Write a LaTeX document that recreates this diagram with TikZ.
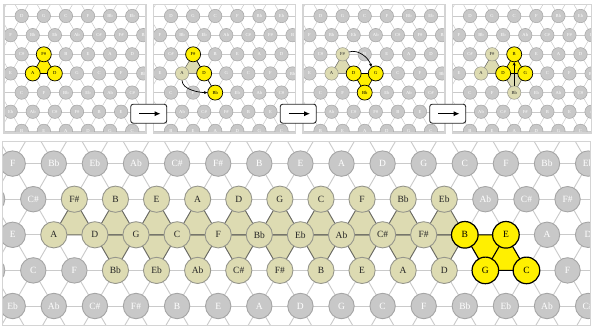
\documentclass[tikz,border=0pt]{standalone}
\usepackage{fontspec}
\setmainfont{Liberation Serif}
\usetikzlibrary{arrows.meta}
\definecolor{cgrey}{RGB}{200,200,200}
\definecolor{cgreyline}{RGB}{165,165,165}
\definecolor{cgrid}{RGB}{202,202,202}
\definecolor{ckhaki}{RGB}{221,219,178}
\definecolor{ckhakiline}{RGB}{150,150,140}
\definecolor{ckedge}{RGB}{105,105,98}
\definecolor{cyel}{RGB}{255,240,0}
\definecolor{cframe}{RGB}{212,212,212}
\makeatletter
\newcommand\inlist[4]{\edef\tmp@a{\noexpand\in@{,#1,}{#2}}\tmp@a\ifin@ #3\else #4\fi}
\makeatother
% lattice: #1 prefix, #2 x of odd row k=0, #3 y of row 1, #4 h, #5 v, #6-#7 rows, #8-#9 k range
\newcommand\lattice[9]{%
  \foreach \j in {#6,...,#7}{\foreach \k in {#8,...,#9}{%
    \coordinate (#1-\j-\k) at ({#2+#4*\k+0.5*#4*mod(\j+1,2)},{#3+#5*(\j-1)});}}%
  \foreach \j in {#6,...,#7}{\foreach \k in {#8,...,#9}{%
    \pgfmathtruncatemacro\kp{\k+1}\pgfmathtruncatemacro\km{\k-1}%
    \pgfmathtruncatemacro\jp{\j+1}\pgfmathtruncatemacro\jpar{mod(\j,2)}%
    \ifnum\k<#9 \draw[gridline] (#1-\j-\k) -- (#1-\j-\kp);\fi
    \ifnum\j<#7
      \ifnum\jpar=1
        \ifnum\k>#8 \draw[gridline] (#1-\j-\k) -- (#1-\jp-\km);\fi
        \draw[gridline] (#1-\j-\k) -- (#1-\jp-\k);
      \else
        \draw[gridline] (#1-\j-\k) -- (#1-\jp-\k);
        \ifnum\k<#9 \draw[gridline] (#1-\j-\k) -- (#1-\jp-\kp);\fi
      \fi
    \fi}}}
% top row of circles: #1 panel, #2 row, #3 first k, #4 labels
\newcommand\trow[4]{\foreach \lab [count=\k from #3] in {#4}{%
  \def\tst{tG}%
  \inlist{#2-\k}{\klist}{\def\tst{tK}}{}%
  \inlist{#2-\k}{\ylist}{\def\tst{tY}}{}%
  \node[\tst] (t#1-#2-\k) at (T#1-#2-\k) {\lab};}}
\newcommand\tcircles[1]{%
  \trow{#1}{1}{0}{D,G,C,F,Bb,Eb}%
  \trow{#1}{2}{-1}{F,Bb,Eb,Ab,C\#,F\#,B}%
  \trow{#1}{3}{0}{C\#,F\#,B,E,A,D}%
  \trow{#1}{4}{-1}{E,A,D,G,C,F,Bb}%
  \trow{#1}{5}{0}{C,F,Bb,Eb,Ab,C\#}%
  \trow{#1}{6}{-1}{Eb,Ab,C\#,F\#,B,E,A}%
  \trow{#1}{7}{0}{B,E,A,D,G,C}}
% bottom row: #1 row, #2 first k, #3-#4 khaki range, #5-#6 yellow range, #7 labels
\newcommand\brow[7]{\foreach \lab [count=\k from #2] in {#7}{%
  \def\bst{bG}%
  \ifnum\k<#3 \else\ifnum\k>#4 \else\def\bst{bK}\fi\fi
  \ifnum\k<#5 \else\ifnum\k>#6 \else\def\bst{bY}\fi\fi
  \node[\bst] (b#1-\k) at (B-#1-\k) {\lab};}}
\begin{document}
\begin{tikzpicture}[x=1pt,y=-1pt,
  tG/.style={circle,inner sep=0pt,minimum size=13.4pt,fill=cgrey,draw=cgreyline,line width=0.5pt,text=white,font=\fontsize{4.6}{5}\selectfont},
  tK/.style={tG,fill=ckhaki,draw=ckhakiline,text=black!85},
  tY/.style={tG,minimum size=15pt,fill=cyel,draw=black,line width=0.7pt,text=black},
  bG/.style={circle,inner sep=0pt,minimum size=25.4pt,fill=cgrey,draw=cgreyline,line width=0.9pt,text=white,font=\fontsize{9.5}{10}\selectfont},
  bK/.style={bG,minimum size=26.2pt,fill=ckhaki,draw=ckhakiline,text=black!85},
  bY/.style={bG,minimum size=26.6pt,fill=cyel,draw=black,line width=1.2pt,text=black},
  tkedge/.style={draw=ckedge,line width=0.5pt},
  tyedge/.style={draw=black,line width=0.6pt},
  bkedge/.style={draw=ckedge,line width=0.9pt},
  byedge/.style={draw=black,line width=1.1pt},
  frame/.style={draw=cframe,line width=1.5pt},
  tarrow/.style={-{Stealth[length=3.4pt,width=3pt]},line width=0.7pt,draw=black},
  abox/.style={rectangle,rounded corners=2.5pt,draw=black!85,line width=0.9pt,fill=white,minimum width=36pt,minimum height=19pt,inner sep=0pt},
  barrow/.style={-{Latex[length=6pt,width=5pt]},line width=1.5pt,draw=black}]
\useasboundingbox (0,0) rectangle (593,329);
\fill[white] (0,0) rectangle (593,329);

% ---------- panel 1 ----------
\begin{scope}[gridline/.style={draw=cgrid,line width=0.5pt}]
  \clip (4,4.3) rectangle (146,132.8);
  \lattice{Ta}{21.7}{16}{22.1}{19.15}{0}{8}{-2}{7}
  \fill[cyel] (Ta-4-0) -- (Ta-3-1) -- (Ta-4-1) -- cycle;
  \draw[tyedge] (Ta-4-0) -- (Ta-3-1) -- (Ta-4-1) -- cycle;
  \def\klist{,}\def\ylist{,4-0,3-1,4-1,}
  \tcircles{a}
\end{scope}
\draw[frame] (4,4.3) rectangle (146,132.8);

% ---------- panel 2 ----------
\begin{scope}[gridline/.style={draw=cgrid,line width=0.5pt}]
  \clip (153.3,4.3) rectangle (295.3,132.8);
  \lattice{Tb}{171}{16}{22.1}{19.15}{0}{8}{-2}{7}
  \fill[ckhaki] (Tb-4-0) -- (Tb-3-1) -- (Tb-4-1) -- cycle;
  \draw[tkedge] (Tb-4-0) -- (Tb-3-1) -- (Tb-4-1) -- cycle;
  \draw[tyedge] (Tb-3-1) -- (Tb-4-1) -- (Tb-5-2);
  \def\klist{,4-0,}\def\ylist{,3-1,4-1,5-2,}
  \tcircles{b}
  \draw[tarrow] (tb-4-0.south) .. controls +(0,9) and +(-9,0) .. (tb-5-2.west);
\end{scope}
\draw[frame] (153.3,4.3) rectangle (295.3,132.8);

% ---------- panel 3 ----------
\begin{scope}[gridline/.style={draw=cgrid,line width=0.5pt}]
  \clip (302.8,4.3) rectangle (444.8,132.8);
  \lattice{Tc}{320.5}{16}{22.1}{19.15}{0}{8}{-2}{7}
  \fill[ckhaki] (Tc-4-0) -- (Tc-3-1) -- (Tc-4-1) -- cycle;
  \draw[tkedge] (Tc-4-0) -- (Tc-3-1) -- (Tc-4-1) -- cycle;
  \fill[cyel] (Tc-4-1) -- (Tc-4-2) -- (Tc-5-2) -- cycle;
  \draw[tyedge] (Tc-4-1) -- (Tc-4-2) -- (Tc-5-2) -- cycle;
  \def\klist{,4-0,3-1,}\def\ylist{,4-1,4-2,5-2,}
  \tcircles{c}
  \draw[tarrow] (tc-3-1.20) .. controls +(9,-3) and +(-2,-9) .. (tc-4-2.125);
\end{scope}
\draw[frame] (302.8,4.3) rectangle (444.8,132.8);

% ---------- panel 4 ----------
\begin{scope}[gridline/.style={draw=cgrid,line width=0.5pt}]
  \clip (452.3,4.3) rectangle (591.3,132.8);
  \lattice{Td}{470}{16}{22.1}{19.15}{0}{8}{-2}{7}
  \fill[ckhaki] (Td-4-0) -- (Td-3-1) -- (Td-4-1) -- cycle;
  \fill[ckhaki] (Td-4-1) -- (Td-4-2) -- (Td-5-2) -- cycle;
  \draw[tkedge] (Td-4-0) -- (Td-3-1) -- (Td-4-1) -- cycle;
  \draw[tkedge] (Td-4-1) -- (Td-4-2) -- (Td-5-2) -- cycle;
  \fill[cyel] (Td-4-1) -- (Td-3-2) -- (Td-4-2) -- cycle;
  \draw[tyedge] (Td-4-1) -- (Td-3-2) -- (Td-4-2) -- cycle;
  \def\klist{,4-0,3-1,5-2,}\def\ylist{,4-1,4-2,3-2,}
  \tcircles{d}
  \draw[tarrow] (td-5-2.north) -- (td-3-2.south);
\end{scope}
\draw[frame] (452.3,4.3) rectangle (591.3,132.8);

% ---------- arrow boxes ----------
\foreach \bx [count=\i] in {148.7,298.2,447.7}{
  \node[abox] (box\i) at (\bx,113.7) {};
  \draw[barrow] ([xshift=-9.5pt]box\i.center) -- ([xshift=12pt]box\i.center);
}

% ---------- bottom panel ----------
\begin{scope}[gridline/.style={draw=cgrid,line width=0.9pt}]
  \clip (2.7,141.7) rectangle (590.7,325.3);
  \lattice{B}{12.7}{163.6}{41.1}{35.6}{0}{6}{-2}{16}
  \foreach \k [evaluate=\k as \kk using int(\k+1)] in {1,...,10}{
    \fill[ckhaki] (B-3-\k) -- (B-3-\kk) -- (B-2-\k) -- cycle;}
  \foreach \k [evaluate=\k as \kk using int(\k+1)] in {2,...,10}{
    \fill[ckhaki] (B-3-\k) -- (B-3-\kk) -- (B-4-\k) -- cycle;}
  \foreach \k [evaluate=\k as \kk using int(\k+1)] in {1,...,10}{
    \draw[bkedge] (B-3-\k) -- (B-3-\kk) -- (B-2-\k) -- cycle;}
  \foreach \k [evaluate=\k as \kk using int(\k+1)] in {2,...,10}{
    \draw[bkedge] (B-3-\k) -- (B-3-\kk) -- (B-4-\k) -- cycle;}
  \fill[cyel] (B-3-11) -- (B-3-12) -- (B-4-12) -- (B-4-11) -- cycle;
  \draw[byedge] (B-3-11) -- (B-3-12) -- (B-4-12) -- (B-4-11) -- cycle;
  \draw[byedge] (B-3-12) -- (B-4-11);
  \brow{1}{0}{99}{0}{99}{0}{F,Bb,Eb,Ab,C\#,F\#,B,E,A,D,G,C,F,Bb,Eb}
  \brow{2}{-1}{1}{10}{99}{0}{{},C\#,F\#,B,E,A,D,G,C,F,Bb,Eb,Ab,C\#,F\#}
  \brow{3}{0}{1}{10}{11}{12}{E,A,D,G,C,F,Bb,Eb,Ab,C\#,F\#,B,E,A,D}
  \brow{4}{-1}{2}{10}{11}{12}{{},C,F,Bb,Eb,Ab,C\#,F\#,B,E,A,D,G,C,F}
  \brow{5}{0}{99}{0}{99}{0}{Eb,Ab,C\#,F\#,B,E,A,D,G,C,F,Bb,Eb,Ab,C\#}
\end{scope}
\draw[frame] (2.7,141.7) rectangle (590.7,325.3);
\end{tikzpicture}
\end{document}
